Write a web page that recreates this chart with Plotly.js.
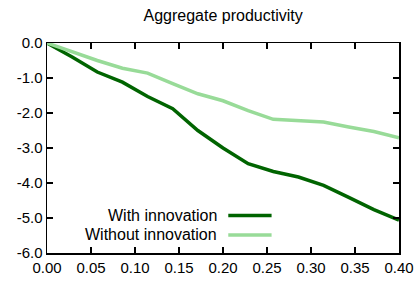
<!DOCTYPE html>
<html>
<head>
<meta charset="utf-8">
<script src="https://cdn.plot.ly/plotly-3.0.1.min.js"></script>
<style>html,body{margin:0;padding:0;background:#fff;}#chart{width:417px;height:281px;}</style>
</head>
<body>
<div id="chart"></div>
<script>
const xValues = [0, 0.02857, 0.05714, 0.08571, 0.11429, 0.14286, 0.17143, 0.2, 0.22857, 0.25714, 0.28571, 0.31429, 0.34286, 0.37143, 0.4];
const withInnovation = [0, -0.40, -0.83, -1.12, -1.53, -1.88, -2.50, -3.00, -3.45, -3.67, -3.83, -4.07, -4.41, -4.76, -5.06];
const withoutInnovation = [0, -0.25, -0.50, -0.72, -0.86, -1.16, -1.45, -1.65, -1.93, -2.18, -2.23, -2.26, -2.40, -2.53, -2.71];
const seriesNames = ["With innovation", "Without innovation"];
const yTickVals = [0, -1, -2, -3, -4, -5, -6];
const yTickLabels = ["0.0", "-1.0", "-2.0", "-3.0", "-4.0", "-5.0", "-6.0"];
const xTickVals = [0, 0.05, 0.1, 0.15, 0.2, 0.25, 0.3, 0.35, 0.4];
const xTickLabels = ["0.00", "0.05", "0.10", "0.15", "0.20", "0.25", "0.30", "0.35", "0.40"];
const colors = ["#006400", "#98db98"];

const traces = [
  {x: xValues, y: withInnovation, name: seriesNames[0], mode: "lines", line: {color: colors[0], width: 3.5}},
  {x: xValues, y: withoutInnovation, name: seriesNames[1], mode: "lines", line: {color: colors[1], width: 3.5}}
];

const fam = "Liberation Sans, Arial, sans-serif";
const tickFont = {family: fam, size: 15, color: "#000"};
const legFont = {family: fam, size: 16, color: "#000"};
const legendY = [0.178, 0.086];
const annotations = seriesNames.map((n, i) => ({
  text: n, xref: "paper", yref: "paper", x: 0.488, y: legendY[i],
  xanchor: "right", yanchor: "middle", showarrow: false, font: legFont
}));
const shapes = seriesNames.map((n, i) => ({
  type: "line", xref: "paper", yref: "paper", x0: 0.515, x1: 0.638, y0: legendY[i], y1: legendY[i],
  line: {color: colors[i], width: 3.5}
}));

const layout = {
  width: 417, height: 281,
  margin: {l: 47, r: 18, t: 43, b: 28},
  paper_bgcolor: "#fff", plot_bgcolor: "#fff",
  showlegend: false,
  title: {text: "Aggregate productivity", font: {family: fam, size: 16, color: "#000"}, x: 0.535, xanchor: "center", xref: "container", yref: "container", y: 0.945, yanchor: "middle"},
  xaxis: {range: [0, 0.4], tickvals: xTickVals, ticktext: xTickLabels, ticks: "inside", ticklen: 6, tickwidth: 1.2, tickcolor: "#000",
          showline: true, linecolor: "#000", linewidth: 1.5, mirror: "ticks", showgrid: false, zeroline: false, tickfont: tickFont, fixedrange: true},
  yaxis: {range: [-6, 0], tickvals: yTickVals, ticktext: yTickLabels, ticks: "inside", ticklen: 6, tickwidth: 1.2, tickcolor: "#000",
          showline: true, linecolor: "#000", linewidth: 1.5, mirror: "ticks", showgrid: false, zeroline: false, tickfont: tickFont, fixedrange: true},
  annotations: annotations,
  shapes: shapes
};

Plotly.newPlot("chart", traces, layout, {displayModeBar: false, staticPlot: true});
</script>
</body>
</html>
